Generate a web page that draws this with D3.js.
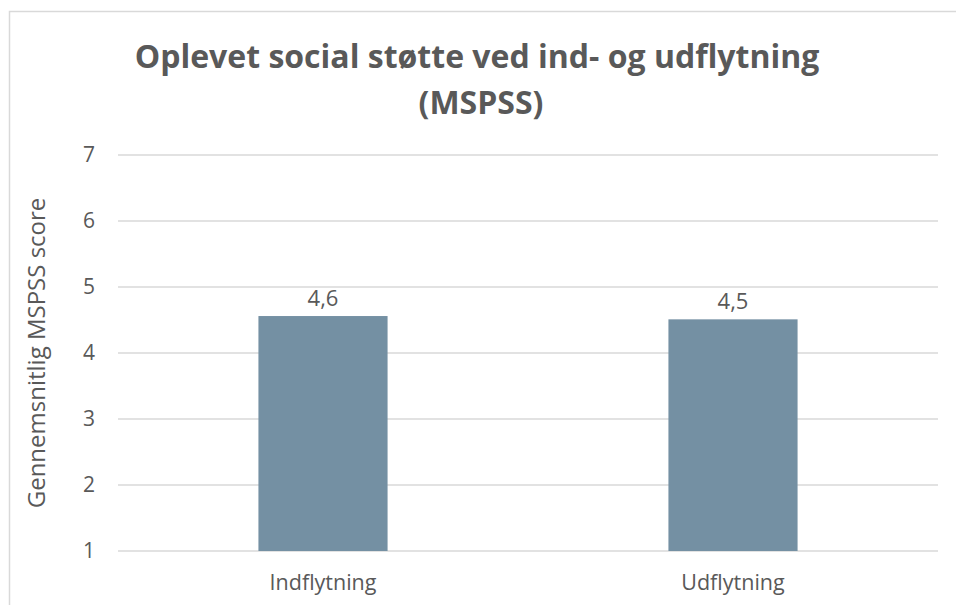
<!doctype html>
<html>
  <head>
    <meta charset="utf-8">
    <script src="https://cdnjs.cloudflare.com/ajax/libs/d3/7.8.5/d3.min.js"></script>
    <style>
      body { margin: 0; background: #fff; }
      text { font-family: "Open Sans", sans-serif; fill: #595959; }
      .title { font-size: 32px; font-weight: bold; text-anchor: middle; }
      .grid line { stroke: #d9d9d9; stroke-width: 1.5px; }
      .bar { fill: #7490a3; }
    </style>
  </head>
  <body>
    <svg id="chart" width="956" height="605"></svg>
    <script>
      var categories = ["Indflytning", "Udflytning"];
      var values = [4.56, 4.51];
      var valueLabels = ["4,6", "4,5"];
      var yTicks = [1, 2, 3, 4, 5, 6, 7];

      var svg = d3.select("#chart");
      var margin = { left: 118, right: 18, top: 155, bottom: 54 };
      var width = 956, height = 605;

      // chart area border (only top and left visible in the picture)
      svg.append("path")
        .attr("d", "M9.5,700 V11.5 H1000")
        .attr("fill", "none")
        .attr("stroke", "#d9d9d9")
        .attr("stroke-width", 1.5);

      var x = d3.scaleBand()
        .domain(categories)
        .range([margin.left, width - margin.right])
        .paddingInner(0.685)
        .paddingOuter(0.3425);

      var y = d3.scaleLinear()
        .domain([1, 7])
        .range([height - margin.bottom, margin.top]);

      svg.append("g")
        .attr("class", "grid")
        .selectAll("line")
        .data(yTicks).enter()
        .append("line")
          .attr("x1", margin.left)
          .attr("x2", width - margin.right)
          .attr("y1", d => y(d))
          .attr("y2", d => y(d));

      svg.append("g")
        .selectAll("text")
        .data(yTicks).enter()
        .append("text")
          .attr("x", 95)
          .attr("y", d => y(d))
          .attr("dy", "0.35em")
          .style("text-anchor", "end")
          .style("font-size", "21px")
          .text(d => d);

      svg.append("g")
        .selectAll("rect")
        .data(values).enter()
        .append("rect")
          .attr("class", "bar")
          .attr("x", (d, i) => x(categories[i]))
          .attr("width", x.bandwidth())
          .attr("y", d => y(d))
          .attr("height", d => y(1) - y(d));

      svg.append("g")
        .selectAll("text")
        .data(values).enter()
        .append("text")
          .attr("x", (d, i) => x(categories[i]) + x.bandwidth() / 2)
          .attr("y", d => y(d) - 10)
          .style("text-anchor", "middle")
          .style("font-size", "22px")
          .text((d, i) => valueLabels[i]);

      svg.append("g")
        .selectAll("text")
        .data(categories).enter()
        .append("text")
          .attr("x", d => x(d) + x.bandwidth() / 2)
          .attr("y", 590)
          .style("text-anchor", "middle")
          .style("font-size", "21.5px")
          .text(d => d);

      svg.append("text")
        .attr("transform", "translate(45,353) rotate(-90)")
        .style("text-anchor", "middle")
        .style("font-size", "24px")
        .text("Gennemsnitlig MSPSS score");

      svg.append("text").attr("class", "title")
        .attr("x", 477).attr("y", 68)
        .text("Oplevet social støtte ved ind- og udflytning");
      svg.append("text").attr("class", "title")
        .attr("x", 481).attr("y", 114)
        .text("(MSPSS)");
    </script>
  </body>
</html>
